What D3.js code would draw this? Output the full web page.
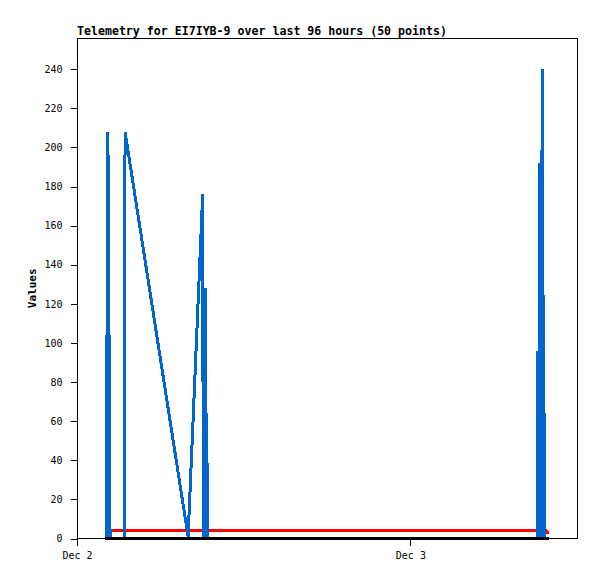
<!DOCTYPE html>
<html>
<head>
<meta charset="utf-8">
<script src="https://cdn.jsdelivr.net/npm/d3@7"></script>
<style>
body { margin: 0; background: #fff; }
</style>
</head>
<body>
<div id="chart"></div>
<script>
// hours are counted from Dec 2 00:00
var startDay = new Date(2023, 11, 2);
var xEndHours = 36.07;
var yMax = 256;
var yTicks = [0, 20, 40, 60, 80, 100, 120, 140, 160, 180, 200, 220, 240];
var titleText = 'Telemetry for EI7IYB-9 over last 96 hours (50 points)';
var yLabel = 'Values';

var blueHours = [2.10, 2.16, 2.20, 2.23, 2.27, 2.31, 2.38, 3.42, 3.46, 8.00, 9.05, 9.09, 9.13, 9.18, 9.22, 9.26, 9.29, 9.34, 9.39,
    33.12, 33.19, 33.24, 33.30, 33.33, 33.37, 33.43, 33.49, 33.52, 33.55, 33.59, 33.64, 33.69];
var blueValues = [0, 104, 0, 208, 0, 104, 0, 0, 208, 1, 176, 0, 64, 0, 0, 128, 0, 64, 0,
    0, 96, 0, 192, 0, 192, 0, 240, 0, 128, 0, 64, 0];

var redHours = [2.02, 33.62, 33.70, 33.76, 33.80, 33.98];
var redValues = [4, 4, 3, 4.5, 3, 3];

var blackHours = [2.02, 33.98];
var blackValues = [0, 0];

var graphicWidth = 597, graphicHeight = 579;
var plotLeft = 77, plotRight = 578, plotTop = 38, plotBottom = 538.5;
var mono = '"DejaVu Sans Mono", "Liberation Mono", monospace';

window.onload = function() {
    render();
};

function toDate(h) {
    return new Date(startDay.getTime() + h * 3600 * 1000);
}

function render() {
    var svg = d3.select('#chart').append('svg')
        .attr('width', graphicWidth)
        .attr('height', graphicHeight)
        .style('background', '#fff');

    var x = d3.scaleTime()
        .domain([startDay, toDate(xEndHours)])
        .range([plotLeft, plotRight]);
    var y = d3.scaleLinear()
        .domain([0, yMax])
        .range([plotBottom, plotTop]);

    // frame
    svg.append('rect')
        .attr('x', plotLeft + 0.5)
        .attr('y', plotTop + 0.5)
        .attr('width', plotRight - plotLeft - 1)
        .attr('height', plotBottom - plotTop - 0.5)
        .attr('fill', 'none')
        .attr('stroke', '#000')
        .attr('shape-rendering', 'crispEdges');

    // y axis
    var yAxis = svg.append('g')
        .attr('transform', 'translate(' + (plotLeft + 0.5) + ',0)')
        .call(d3.axisLeft(y).tickValues(yTicks).tickSize(7).tickPadding(8));
    yAxis.select('.domain').remove();
    yAxis.selectAll('line').attr('shape-rendering', 'crispEdges');
    yAxis.selectAll('text')
        .style('font-family', mono)
        .style('font-size', '10px')
        .attr('fill', '#000');

    // x axis
    var xAxis = svg.append('g')
        .attr('transform', 'translate(0,' + plotBottom + ')')
        .call(d3.axisBottom(x).ticks(d3.timeDay.every(1))
            .tickFormat(d3.timeFormat('%b %-d')).tickSize(7).tickPadding(6));
    xAxis.select('.domain').remove();
    xAxis.selectAll('line').attr('shape-rendering', 'crispEdges');
    xAxis.selectAll('text')
        .style('font-family', mono)
        .style('font-size', '10px')
        .attr('fill', '#000');

    drawSeries(svg, x, y, redHours, redValues, '#ff0000');
    drawSeries(svg, x, y, blueHours, blueValues, '#0066cc');
    drawSeries(svg, x, y, blackHours, blackValues, '#000000');

    svg.append('text')
        .attr('x', plotLeft)
        .attr('y', 35)
        .style('font-family', mono)
        .style('font-size', '11.6px')
        .style('font-weight', 'bold')
        .text(titleText);

    svg.append('text')
        .attr('transform', 'translate(36,' + ((plotTop + plotBottom) / 2) + ') rotate(-90)')
        .style('font-family', mono)
        .style('font-size', '11px')
        .style('font-weight', 'bold')
        .style('text-anchor', 'middle')
        .text(yLabel);
}

function drawSeries(svg, x, y, hours, values, color) {
    var pts = hours.map(function(h, i) { return [toDate(h), values[i]]; });
    var line = d3.line()
        .x(function(d) { return x(d[0]); })
        .y(function(d) { return y(d[1]); });
    svg.append('path')
        .attr('d', line(pts))
        .attr('fill', 'none')
        .attr('stroke', color)
        .attr('stroke-width', 3)
        .attr('stroke-linejoin', 'bevel')
        .attr('shape-rendering', 'crispEdges');
}
</script>
</body>
</html>
